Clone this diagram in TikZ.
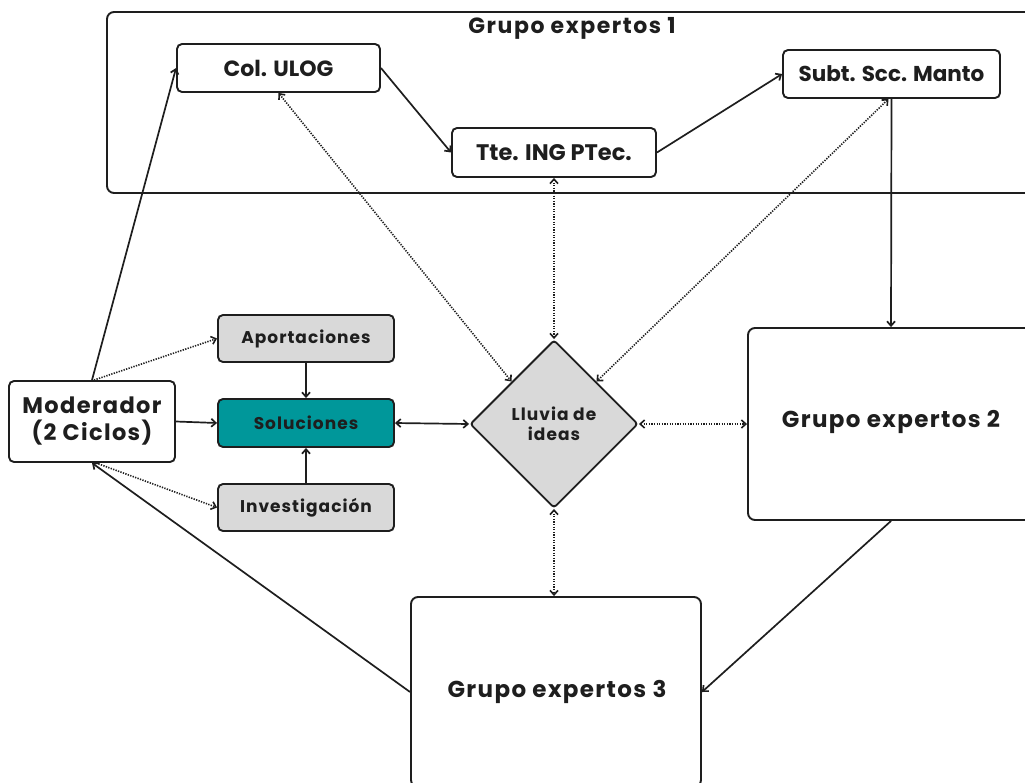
\documentclass[tikz,border=0pt]{standalone}
\usepackage{fontspec}
\setmainfont{Poppins}
\newfontfamily\spaced{Poppins}[LetterSpace=6]
\newfontfamily\titlefont{Poppins}[LetterSpace=7]
\usetikzlibrary{arrows.meta,shapes.geometric}
\definecolor{ink}{HTML}{1E1E1E}
\definecolor{boxgray}{HTML}{D9D9D9}
\definecolor{teal}{HTML}{00979A}
\begin{document}
\begin{tikzpicture}[x=1pt,y=-1pt,
  every node/.style={font=\bfseries, text=ink},
  box/.style={draw=ink, line width=1.9pt, rounded corners=5pt, fill=white, inner sep=0pt, align=center},
  bigbox/.style={draw=ink, line width=1.9pt, rounded corners=7pt, fill=white, inner sep=0pt},
  grayb/.style={box, fill=boxgray},
  conn/.style={draw=ink, line width=1.7pt, -{Straight Barb[length=4.5pt,width=8pt]}},
  bconn/.style={conn, {Straight Barb[length=4.5pt,width=8pt]}-{Straight Barb[length=4.5pt,width=8pt]}},
  dconn/.style={draw=ink, line width=1.6pt, dash pattern=on 1.3pt off 1.3pt, -{Straight Barb[length=4.5pt,width=8pt]}},
  dbconn/.style={dconn, {Straight Barb[length=4.5pt,width=8pt]}-{Straight Barb[length=4.5pt,width=8pt]}}
]
\useasboundingbox[fill=white] (0,0) rectangle (1025,782);

% Group 1 frame
\node[bigbox, minimum width=930, minimum height=181] (g1) at (572,102.5) {};
\node[font=\titlefont\bfseries\fontsize{22}{25}\selectfont] (g1t) at (572,28) {Grupo expertos 1};

\node[box, minimum width=203, minimum height=48, font=\bfseries\fontsize{22}{24}\selectfont] (col) at (278.5,68) {Col. ULOG};
\node[box, minimum width=204, minimum height=49, font=\bfseries\fontsize{22.5}{24}\selectfont] (tte) at (554,152.5) {Tte. ING PTec.};
\node[box, minimum width=217, minimum height=48, font=\bfseries\fontsize{21.5}{24}\selectfont] (sub) at (891.5,74) {Subt. Scc. Manto};

% Left cluster
\node[box, minimum width=166, minimum height=81, font=\spaced\bfseries\fontsize{22.5}{27}\selectfont] (mod) at (92,421.5) {Moderador\\(2 Ciclos)};
\node[grayb, minimum width=176, minimum height=47, font=\spaced\bfseries\fontsize{17}{20}\selectfont] (apo) at (306,338.5) {Aportaciones};
\node[box, fill=teal, minimum width=176, minimum height=48, font=\spaced\bfseries\fontsize{17}{20}\selectfont] (sol) at (306,423) {Soluciones};
\node[grayb, minimum width=176, minimum height=47, font=\spaced\bfseries\fontsize{17}{20}\selectfont] (inv) at (306,507.5) {Investigación};

% Diamond
\node[diamond, draw=ink, line width=1.9pt, fill=boxgray, rounded corners=3pt, minimum width=168, minimum height=168, inner sep=0pt, align=center, font=\spaced\bfseries\fontsize{17}{20}\selectfont] (ll) at (554,424) {Lluvia de\\ideas};

% Big groups
\node[bigbox, minimum width=286, minimum height=192] (g2) at (891,424) {};
\node[font=\spaced\bfseries\fontsize{23}{26}\selectfont] (g2t) at (891,422) {Grupo expertos 2};
\node[bigbox, minimum width=290, minimum height=190] (g3) at (556,692) {};
\node[font=\spaced\bfseries\fontsize{23}{26}\selectfont] (g3t) at (557,692) {Grupo expertos 3};

% Solid connectors
\draw[conn] (mod.north) -- (col.west);
\draw[conn] (col.east) -- (tte.west);
\draw[conn] (tte.east) -- (sub.west);
\draw[conn] (sub.south) -- (g2.north);
\draw[conn] (mod.east) -- (sol.west);
\draw[conn] (apo.south) -- (sol.north);
\draw[conn] (inv.north) -- (sol.south);
\draw[bconn] (sol.east) -- (ll.west);
\draw[conn] (g2.south) -- (g3.east);
\draw[conn] (g3.west) -- (mod.south);

% Dotted connectors
\draw[dconn] ([xshift=2pt]mod.north) -- (apo.west);
\draw[dconn] ([xshift=4pt]mod.south) -- (inv.west);
\draw[dbconn] (col.south) -- (ll.north west);
\draw[dbconn] (tte.south) -- (ll.north);
\draw[dbconn] ([xshift=-3pt]sub.south) -- (ll.north east);
\draw[dbconn] (ll.east) -- (g2.west);
\draw[dbconn] (ll.south) -- (g3.north -| ll.south);
\end{tikzpicture}
\end{document}
